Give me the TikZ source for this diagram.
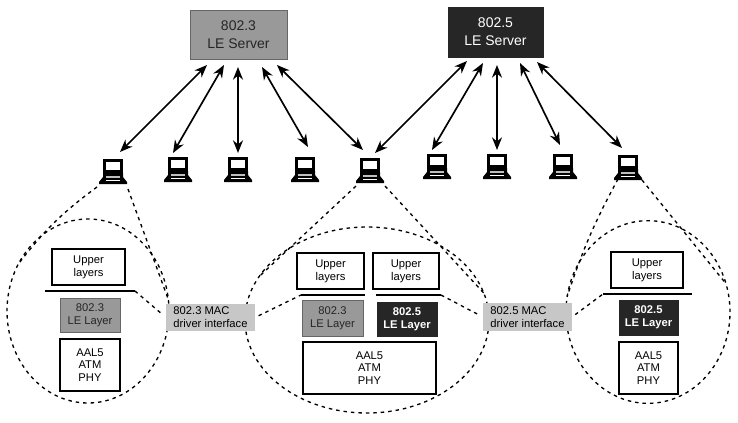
\documentclass[tikz,border=0pt]{standalone}
\usepackage{fontspec}
\setmainfont{Liberation Sans}
\usetikzlibrary{arrows.meta,shapes.geometric}
\tikzset{
  x=0.75pt,y=-0.75pt,
  every node/.style={inner sep=0pt,outer sep=0pt,align=center,font=\fontsize{8.4pt}{9.6pt}\selectfont},
  bubble/.style={ellipse,draw,line width=1pt,dash pattern=on 2.6pt off 3pt,minimum width=#1},
  dashline/.style={line width=1pt,dash pattern=on 2.6pt off 3pt},
  dbl/.style={line width=1.25pt,{Stealth[length=9.5pt,width=7.5pt]}-{Stealth[length=9.5pt,width=7.5pt]}},
  box/.style={draw=black,line width=1pt,fill=white,minimum width=#1},
  lightfill/.style={draw=black!60,line width=0.5pt,fill=black!40,text=black!85,minimum width=#1},
  darkfill/.style={draw=black!85,line width=0.5pt,fill=black!85,text=white,minimum width=#1},
  drv/.style={fill=black!22,text=black,align=left,minimum width=#1,minimum height=20.5pt},
  barline/.style={fill=black,minimum width=#1,minimum height=2.2pt},
  srvtext/.style={font=\fontsize{10.5pt}{13.5pt}\selectfont},
  lap/.style={minimum width=20pt,minimum height=18pt},
}
\newcommand{\laptop}[3]{%
  \node[lap] (#1) at (#2,#3+12) {};
  \begin{scope}[shift={(#2,#3)}]
    \fill[black] (-10,0) rectangle (10,15);
    \fill[white] (-7,3) rectangle (7,11);
    \fill[black] (-10,14) -- (10,14) -- (10,18) -- (14,23) -- (14,25) -- (-14,25) -- (-14,23) -- (-10,18) -- cycle;
    \fill[black!25] (-7,17) rectangle (7,19);
    \fill[white] (-7,21) rectangle (7,22);
  \end{scope}}
\begin{document}
\begin{tikzpicture}
\useasboundingbox (0,0) rectangle (738,422);
\fill[white] (0,0) rectangle (738,422);
% servers
\node[lightfill=72.75pt,minimum height=36.75pt,srvtext] (s1) at (238.5,34.5) {802.3\\LE Server};
\node[darkfill=71.25pt,minimum height=37.5pt,srvtext] (s2) at (495.5,32) {802.5\\LE Server};
% laptops
\laptop{l1}{113}{159}
\laptop{l2}{178}{157}
\laptop{l3}{238}{157}
\laptop{l4}{305}{157}
\laptop{l5}{370}{158}
\laptop{l6}{437}{154}
\laptop{l7}{497}{154}
\laptop{l8}{563}{154}
\laptop{l9}{628}{155}
% arrows
\draw[dbl] ([shift={(7,-7)}]l1.north) -- ([shift={(-31.5,6)}]s1.south);
\draw[dbl] ([shift={(-5,-4)}]l2.north) -- ([shift={(-14.5,6)}]s1.south);
\draw[dbl] ([shift={(0,-4)}]l3.north) -- ([shift={(-0.5,8)}]s1.south);
\draw[dbl] ([shift={(3,-10)}]l4.north) -- ([shift={(23.5,8)}]s1.south);
\draw[dbl] ([shift={(-7,-8)}]l5.north) -- ([shift={(38.5,6)}]s1.south);
\draw[dbl] ([shift={(5,-5)}]l5.north) -- ([shift={(-28.5,4)}]s2.south);
\draw[dbl] ([shift={(-5,-4)}]l6.north) -- ([shift={(-12.5,6)}]s2.south);
\draw[dbl] ([shift={(0,-4)}]l7.north) -- ([shift={(1.5,8)}]s2.south);
\draw[dbl] ([shift={(-3,-9)}]l8.north) -- ([shift={(24.5,6)}]s2.south);
\draw[dbl] ([shift={(-6,-7)}]l9.north) -- ([shift={(41.5,5)}]s2.south);
% bubbles
\node[bubble=121.5pt,minimum height=138pt] (b1) at (88,311) {};
\node[bubble=183pt,minimum height=139.5pt] (b2) at (367,320) {};
\node[bubble=123pt,minimum height=137pt] (b3) at (648,312) {};
\draw[dashline] ([shift={(-16,4)}]l1.south) to[bend right=8] (b1.146);
\draw[dashline] ([shift={(15,6)}]l1.south) -- (b1.8);
\draw[dashline] ([shift={(-14,4)}]l5.south) -- (b2.158);
\draw[dashline] ([shift={(15,4)}]l5.south) -- (b2.13);
\draw[dashline] ([shift={(-10,0)}]l9.south) to[bend right=5] (b3.169);
\draw[dashline] ([shift={(14,1)}]l9.south) -- (b3.20);
% left stack
\node[box=54.75pt,minimum height=27pt] (u1) at (88.5,267) {Upper\\layers};
\node[barline=67.5pt] (bar1) at (90,291) {};
\node[lightfill=45pt,minimum height=25.5pt] (le1) at (90,315) {802.3\\LE Layer};
\node[box=45pt,minimum height=39pt] (a1) at (90,365) {AAL5\\ATM\\PHY};
% middle stack
\node[box=50.25pt,minimum height=27pt] (u2) at (330.5,271) {Upper\\layers};
\node[box=49.5pt,minimum height=27pt] (u3) at (406,271) {Upper\\layers};
\node[barline=48pt] (bar2) at (333,295) {};
\node[barline=48.75pt] (bar3) at (408.5,295) {};
\node[lightfill=45.75pt,minimum height=27pt] (le2) at (332.5,318) {802.3\\LE Layer};
\node[darkfill=45pt,minimum height=25.5pt,font=\bfseries\fontsize{8.4pt}{9.6pt}\selectfont] (le3) at (407,319) {802.5\\LE Layer};
\node[box=99.75pt,minimum height=39pt] (a2) at (369.5,368) {AAL5\\ATM\\PHY};
% right stack
\node[box=54pt,minimum height=27pt] (u4) at (647,270) {Upper\\layers};
\node[barline=66.75pt] (bar4) at (647.5,294) {};
\node[darkfill=44.25pt,minimum height=26.25pt,font=\bfseries\fontsize{8.4pt}{9.6pt}\selectfont] (le4) at (648.5,317.5) {802.5\\LE Layer};
\node[box=44.25pt,minimum height=39pt] (a3) at (648.5,368) {AAL5\\ATM\\PHY};
% driver interfaces
\node[drv=66.75pt] (d1) at (210.5,317.5) {802.3 MAC\\driver interface};
\node[drv=66.75pt] (d2) at (527.5,317) {802.5 MAC\\driver interface};
\draw[dashline,shorten >=3pt] (bar1.east) -- (d1.west);
\draw[dashline,shorten <=3pt] (d1.east) -- (bar2.west);
\draw[dashline,shorten >=3pt] (bar3.east) -- (d2.west);
\draw[dashline,shorten <=3pt] (d2.east) -- (bar4.west);
\end{tikzpicture}
\end{document}
